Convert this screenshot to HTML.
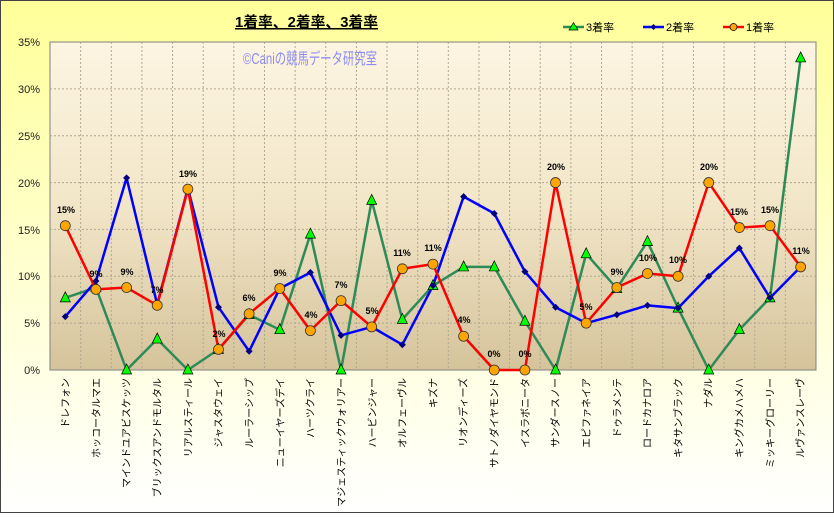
<!DOCTYPE html>
<html><head><meta charset="utf-8"><style>
html,body{margin:0;padding:0;}
body{width:834px;height:513px;overflow:hidden;font-family:"Liberation Sans","Noto Sans CJK JP",sans-serif;}
</style></head><body>
<svg id="s" width="834" height="513" xmlns="http://www.w3.org/2000/svg" font-family="Liberation Sans, Noto Sans CJK JP, sans-serif">
<defs>
<linearGradient id="bg" x1="0" y1="0" x2="0" y2="1"><stop offset="0" stop-color="#FFFF99"/><stop offset="0.6" stop-color="#FFFFD8"/><stop offset="1" stop-color="#FFFFFF"/></linearGradient>
<linearGradient id="pa" x1="0" y1="0" x2="0" y2="1"><stop offset="0" stop-color="#FDF5E2"/><stop offset="0.5" stop-color="#F2E6C8"/><stop offset="1" stop-color="#D5C39B"/></linearGradient>
</defs>
<rect x="0.5" y="0.5" width="833" height="512" fill="url(#bg)" stroke="#444" stroke-width="1"/>
<rect x="50" y="42" width="766" height="328" fill="url(#pa)" stroke="#808080"/>
<g id="grid" stroke="#B0A890" stroke-dasharray="2,2" stroke-width="1"></g>
<text x="235" y="27" font-size="15" font-weight="bold" text-decoration="underline" fill="#000" textLength="143" lengthAdjust="spacingAndGlyphs">1着率、2着率、3着率</text>
<text x="243" y="64" font-size="16" fill="#8C8CF0" textLength="134" lengthAdjust="spacingAndGlyphs">©Caniの競馬データ研究室</text>
<g font-size="11" fill="#000">
<line x1="563" y1="27" x2="584" y2="27" stroke="#2E8B57" stroke-width="2.5"/><polygon points="573.5,22.5 569,30 578,30" fill="#00FF00" stroke="#000" stroke-width="0.7"/><text x="586" y="31">3着率</text>
<line x1="643" y1="27" x2="664" y2="27" stroke="#0000FF" stroke-width="2.5"/><polygon points="653.5,24 656.5,27 653.5,30 650.5,27" fill="#000080"/><text x="666" y="31">2着率</text>
<line x1="723" y1="27" x2="744" y2="27" stroke="#FF0000" stroke-width="2.5"/><circle cx="733.5" cy="27" r="3.5" fill="#FFA500" stroke="#000" stroke-width="0.7"/><text x="746" y="31">1着率</text>
</g>
<g font-size="11" fill="#222" text-anchor="end">
<text x="40" y="46">35%</text><text x="40" y="93">30%</text><text x="40" y="140">25%</text><text x="40" y="187">20%</text><text x="40" y="234">15%</text><text x="40" y="280">10%</text><text x="40" y="327">5%</text><text x="40" y="374">0%</text>
</g>
<g id="series"></g>
<g font-size="9" font-weight="bold" fill="#000" text-anchor="middle">
<text x="66" y="213">15%</text><text x="96" y="277">9%</text><text x="127" y="275">9%</text><text x="157" y="293">7%</text><text x="188" y="177">19%</text><text x="219" y="337">2%</text><text x="249" y="301">6%</text><text x="280" y="276">9%</text><text x="311" y="318">4%</text><text x="341" y="288">7%</text><text x="372" y="314">5%</text><text x="402" y="256">11%</text><text x="433" y="251">11%</text><text x="464" y="323">4%</text><text x="494" y="357">0%</text><text x="525" y="357">0%</text><text x="556" y="170">20%</text><text x="586" y="310">5%</text><text x="617" y="275">9%</text><text x="648" y="261">10%</text><text x="678" y="263">10%</text><text x="709" y="170">20%</text><text x="739" y="215">15%</text><text x="770" y="213">15%</text><text x="801" y="254">11%</text>
</g>
<g font-size="10" fill="#000" text-anchor="end">
<text transform="translate(69,378) rotate(-90)">ドレフォン</text>
<text transform="translate(100,378) rotate(-90)">ホッコータルマエ</text>
<text transform="translate(130,378) rotate(-90)">マインドユアビスケッツ</text>
<text transform="translate(161,378) rotate(-90)">ブリックスアンドモルタル</text>
<text transform="translate(192,378) rotate(-90)">リアルスティール</text>
<text transform="translate(222,378) rotate(-90)">ジャスタウェイ</text>
<text transform="translate(253,378) rotate(-90)">ルーラーシップ</text>
<text transform="translate(284,378) rotate(-90)">ニューイヤーズデイ</text>
<text transform="translate(314,378) rotate(-90)">ハーツクライ</text>
<text transform="translate(345,378) rotate(-90)">マジェスティックウォリアー</text>
<text transform="translate(376,378) rotate(-90)">ハービンジャー</text>
<text transform="translate(406,378) rotate(-90)">オルフェーヴル</text>
<text transform="translate(437,378) rotate(-90)">キズナ</text>
<text transform="translate(467,378) rotate(-90)">リオンディーズ</text>
<text transform="translate(498,378) rotate(-90)">サトノダイヤモンド</text>
<text transform="translate(529,378) rotate(-90)">イスラボニータ</text>
<text transform="translate(559,378) rotate(-90)">サンダースノー</text>
<text transform="translate(590,378) rotate(-90)">エピファネイア</text>
<text transform="translate(621,378) rotate(-90)">ドゥラメンテ</text>
<text transform="translate(651,378) rotate(-90)">ロードカナロア</text>
<text transform="translate(682,378) rotate(-90)">キタサンブラック</text>
<text transform="translate(712,378) rotate(-90)">ナダル</text>
<text transform="translate(743,378) rotate(-90)">キングカメハメハ</text>
<text transform="translate(774,378) rotate(-90)">ミッキーグローリー</text>
<text transform="translate(804,378) rotate(-90)">ルヴァンスレーヴ</text>
</g>
</svg>
<script>
var NS="http://www.w3.org/2000/svg";
function el(p,n,a){var e=document.createElementNS(NS,n);for(var k in a)e.setAttribute(k,a[k]);p.appendChild(e);return e;}
var g=document.getElementById("grid");
for(var k=1;k<25;k++){var x=50+30.64*k;el(g,"line",{x1:x,y1:42,x2:x,y2:370});}
for(var v=5;v<35;v+=5){var y=370-9.371*v;el(g,"line",{x1:50,y1:y,x2:816,y2:y});}
el(g,"line",{x1:50,y1:370,x2:816,y2:370,stroke:"#808080","stroke-dasharray":"none"});
var X=function(i){return 65.3+30.64*i;},Y=function(v){return 370-9.371*v;};
var g3=[7.7,8.8,0,3.3,0,2.2,5.9,4.3,14.5,0,18.1,5.4,9,11,11,5.2,0,12.4,8.7,13.7,6.6,0,4.3,7.7,33.3];
var g2=[5.7,9.5,20.5,7.0,19.4,6.7,2,8.7,10.4,3.7,4.6,2.7,9,18.5,16.7,10.5,6.7,5,5.9,6.9,6.6,10,13,7.7,11];
var g1=[15.4,8.6,8.8,6.9,19.3,2.2,6,8.7,4.2,7.4,4.6,10.8,11.3,3.6,0,0,20,5,8.8,10.3,10,20,15.2,15.4,11];
var s=document.getElementById("series");
function line(d,c){el(s,"polyline",{points:d.map(function(v,i){return X(i)+","+Y(v)}).join(" "),fill:"none",stroke:c,"stroke-width":2.5,"stroke-linejoin":"round"});}
line(g3,"#2E8B57");line(g2,"#0000FF");line(g1,"#FF0000");
g3.forEach(function(v,i){var x=X(i),y=Y(v);el(s,"polygon",{points:x+","+(y-6)+" "+(x-5)+","+(y+4)+" "+(x+5)+","+(y+4),fill:"#00FF00",stroke:"#000","stroke-width":0.7});});
g2.forEach(function(v,i){var x=X(i),y=Y(v);el(s,"polygon",{points:x+","+(y-3.5)+" "+(x+3.5)+","+y+" "+x+","+(y+3.5)+" "+(x-3.5)+","+y,fill:"#000080"});});
g1.forEach(function(v,i){el(s,"circle",{cx:X(i),cy:Y(v),r:5,fill:"#FFA500",stroke:"#333","stroke-width":0.8});});
</script>
</body></html>
